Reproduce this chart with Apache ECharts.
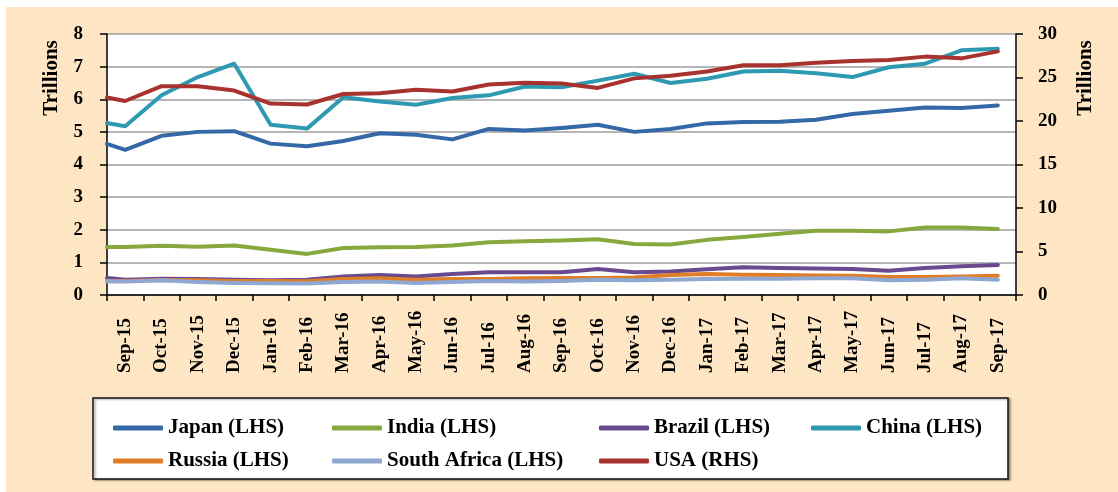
<!DOCTYPE html>
<html>
<head>
<meta charset="utf-8">
<script src="https://cdn.jsdelivr.net/npm/echarts@6/dist/echarts.min.js"></script>
<style>
  html, body { margin: 0; padding: 0; background: #ffffff; }
  #frame { position: absolute; left: 6px; top: 7px; width: 1112px; height: 485px; background: #FEE5C4; }
  #plotBg { position: absolute; left: 107px; top: 34px; width: 909px; height: 261px; background: #ffffff; }
  #chart { position: absolute; left: 6px; top: 7px; width: 1112px; height: 485px; }
</style>
</head>
<body>
<div id="frame"></div>
<div id="plotBg"></div>
<div id="chart"></div>
<script>
// Month labels (one per category)
var months = ['Sep-15', 'Oct-15', 'Nov-15', 'Dec-15', 'Jan-16', 'Feb-16', 'Mar-16', 'Apr-16',
    'May-16', 'Jun-16', 'Jul-16', 'Aug-16', 'Sep-16', 'Oct-16', 'Nov-16', 'Dec-16', 'Jan-17',
    'Feb-17', 'Mar-17', 'Apr-17', 'May-17', 'Jun-17', 'Jul-17', 'Aug-17', 'Sep-17'];

// first value sits on the left edge of the axis, then one per month
var japan = [4.63, 4.45, 4.88, 5.00, 5.02, 4.64, 4.56, 4.72, 4.96, 4.91, 4.77, 5.09, 5.04,
    5.12, 5.22, 5.00, 5.09, 5.26, 5.30, 5.31, 5.37, 5.55, 5.65, 5.75, 5.73, 5.81];
var india = [1.47, 1.47, 1.51, 1.48, 1.52, 1.39, 1.26, 1.44, 1.46, 1.47, 1.52, 1.62, 1.65,
    1.67, 1.71, 1.56, 1.55, 1.69, 1.78, 1.88, 1.97, 1.97, 1.95, 2.07, 2.07, 2.02];
var brazil = [0.52, 0.47, 0.50, 0.49, 0.47, 0.45, 0.47, 0.57, 0.61, 0.57, 0.64, 0.70, 0.70,
    0.70, 0.80, 0.70, 0.72, 0.79, 0.85, 0.83, 0.81, 0.80, 0.74, 0.83, 0.88, 0.92];
var china = [5.27, 5.17, 6.12, 6.68, 7.09, 5.22, 5.10, 6.06, 5.93, 5.83, 6.04, 6.12, 6.39,
    6.37, 6.57, 6.78, 6.50, 6.63, 6.85, 6.87, 6.80, 6.68, 6.98, 7.09, 7.50, 7.55];
var russia = [0.42, 0.43, 0.46, 0.45, 0.43, 0.43, 0.42, 0.49, 0.51, 0.47, 0.49, 0.49, 0.51,
    0.52, 0.52, 0.54, 0.61, 0.64, 0.62, 0.61, 0.60, 0.59, 0.55, 0.55, 0.57, 0.59];
var southAfrica = [0.42, 0.41, 0.45, 0.40, 0.37, 0.36, 0.35, 0.40, 0.41, 0.37, 0.40, 0.43, 0.41,
    0.43, 0.47, 0.45, 0.47, 0.49, 0.50, 0.50, 0.51, 0.51, 0.45, 0.47, 0.51, 0.47];
var usa = [22.7, 22.3, 24.0, 24.0, 23.5, 22.0, 21.9, 23.1, 23.2, 23.6, 23.4, 24.2, 24.4,
    24.3, 23.8, 24.9, 25.2, 25.7, 26.4, 26.4, 26.7, 26.9, 27.0, 27.4, 27.2, 28.0];

// x position of each point on the hidden value axis (-0.5 = left edge)
var xPos = [-0.5].concat(months.map(function(m, i) { return i; }));

var font = 'Liberation Serif';
var gridColor = '#9E9E9E';

var pairs = function(values) {
    return values.map(function(v, i) { return [xPos[i], v]; });
};

var makeSeries = function(name, values, color, yIndex) {
    return {
        name: name,
        type: 'line',
        xAxisIndex: 1,
        yAxisIndex: yIndex,
        data: pairs(values),
        symbol: 'none',
        animation: false,
        lineStyle: { color: color, width: 4, cap: 'round', join: 'round' },
        itemStyle: { color: color },
        emphasis: { disabled: true }
    };
};

var legendBase = function(left, names) {
    return {
        orient: 'vertical',
        left: left,
        top: 405,
        data: names,
        icon: 'roundRect',
        itemWidth: 50,
        itemHeight: 5,
        itemGap: 11,
        selectedMode: false,
        textStyle: { fontFamily: font, fontWeight: 'bold', fontSize: 21, lineHeight: 22, color: '#000' }
    };
};

var chart = echarts.init(document.getElementById('chart'));
chart.setOption({
    backgroundColor: 'transparent',
    grid: {
        left: 101, top: 27, width: 909, height: 261,
        show: false
    },
    xAxis: [{
        type: 'category',
        data: months,
        boundaryGap: true,
        axisLine: { lineStyle: { color: '#000', width: 1.5 } },
        axisTick: { show: true, length: 6, interval: 0, lineStyle: { color: '#000', width: 1.5 } },
        axisLabel: {
            interval: 0, rotate: 90, margin: 78, align: 'left', verticalAlign: 'middle',
            fontFamily: font, fontWeight: 'bold', fontSize: 19, color: '#000'
        },
        splitLine: { show: false }
    }, {
        type: 'value',
        min: -0.5,
        max: 24.5,
        show: false
    }],
    yAxis: [{
        type: 'value',
        min: 0, max: 8, interval: 1,
        axisLine: { show: true, onZero: false, lineStyle: { color: '#000', width: 1.5 } },
        axisTick: { show: true, length: 7, lineStyle: { color: '#000', width: 1.5 } },
        axisLabel: { margin: 24, fontFamily: font, fontWeight: 'bold', fontSize: 19, color: '#000' },
        splitLine: { show: true, lineStyle: { color: gridColor, width: 1.5, type: 'solid', opacity: 1 } }
    }, {
        type: 'value',
        position: 'right',
        min: 0, max: 30, interval: 5,
        axisLine: { show: true, onZero: false, lineStyle: { color: '#000', width: 1.5 } },
        axisTick: { show: true, length: 7, lineStyle: { color: '#000', width: 1.5 } },
        axisLabel: { margin: 22, fontFamily: font, fontWeight: 'bold', fontSize: 19, color: '#000' },
        splitLine: { show: false }
    }],
    legend: [
        legendBase(102, ['Japan (LHS)', 'Russia (LHS)']),
        legendBase(321, ['India (LHS)', 'South Africa (LHS)']),
        legendBase(588, ['Brazil (LHS)', 'USA (RHS)']),
        legendBase(800, ['China (LHS)'])
    ],
    graphic: [{
        type: 'rect',
        z: -10,
        shape: { x: 87, y: 391, width: 915, height: 81 },
        style: {
            fill: '#ffffff', stroke: '#111', lineWidth: 1.5,
            shadowColor: 'rgba(0,0,0,0.35)', shadowOffsetX: 2, shadowOffsetY: 1, shadowBlur: 2
        }
    }, {
        type: 'text',
        x: 46, y: 71, rotation: Math.PI / 2,
        style: {
            text: 'Trillions', fontFamily: font, fontWeight: 'bold', fontSize: 21, fill: '#000',
            textAlign: 'center', textVerticalAlign: 'middle', align: 'center', verticalAlign: 'middle'
        }
    }, {
        type: 'text',
        x: 1080, y: 71, rotation: Math.PI / 2,
        style: {
            text: 'Trillions', fontFamily: font, fontWeight: 'bold', fontSize: 21, fill: '#000',
            textAlign: 'center', textVerticalAlign: 'middle', align: 'center', verticalAlign: 'middle'
        }
    }],
    series: [
        makeSeries('Japan (LHS)', japan, '#3468A6', 0),
        makeSeries('India (LHS)', india, '#86A83D', 0),
        makeSeries('Brazil (LHS)', brazil, '#694A8E', 0),
        makeSeries('China (LHS)', china, '#2E9AB2', 0),
        makeSeries('Russia (LHS)', russia, '#E07E27', 0),
        makeSeries('South Africa (LHS)', southAfrica, '#8EA8D2', 0),
        makeSeries('USA (RHS)', usa, '#A8332E', 1)
    ]
});
</script>
</body>
</html>
